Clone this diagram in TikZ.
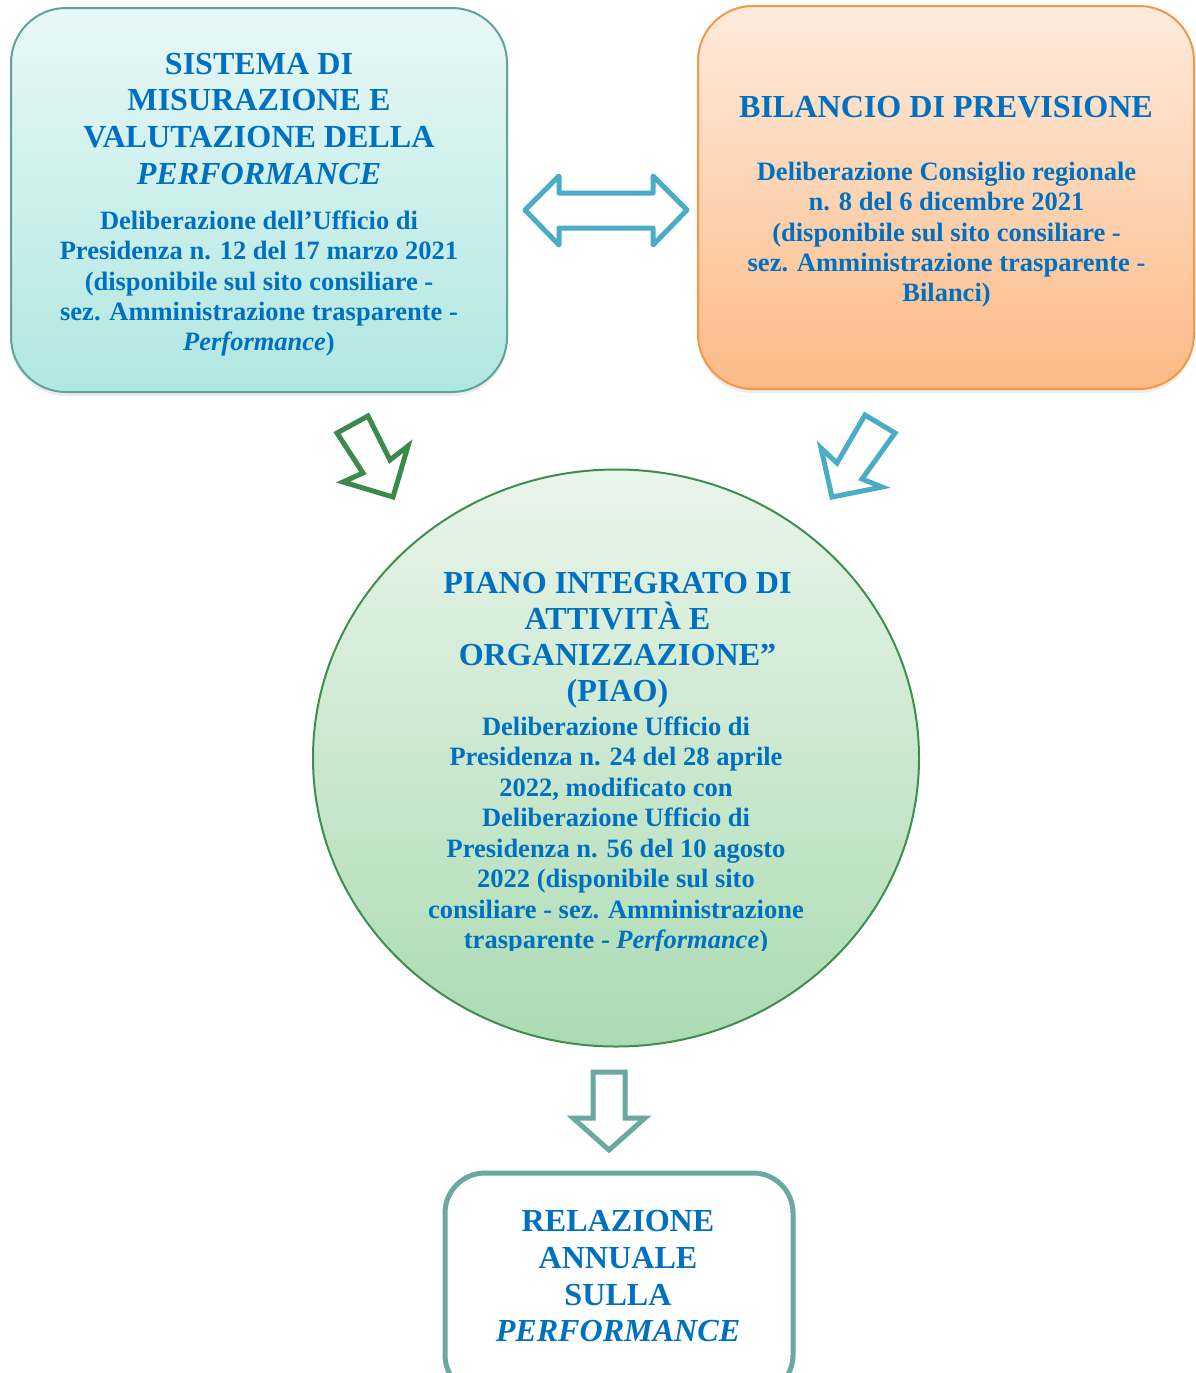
\documentclass[tikz,border=0pt]{standalone}
\usepackage{fontspec}
\setmainfont{Liberation Serif}
\usetikzlibrary{shapes.geometric,shadows}
\definecolor{txtblue}{HTML}{0070C0}
\definecolor{tealline}{HTML}{5FA39B}
\definecolor{tealtop}{HTML}{E9F8F6}
\definecolor{tealbot}{HTML}{B0E7E1}
\definecolor{orline}{HTML}{F79646}
\definecolor{ortop}{HTML}{FEEBDD}
\definecolor{orbot}{HTML}{FCBA85}
\definecolor{grline}{HTML}{3E8E4F}
\definecolor{grtop}{HTML}{EAF5EA}
\definecolor{grbot}{HTML}{ABDBB3}
\definecolor{cyanarrow}{HTML}{4BACC6}
\definecolor{greenarrow}{HTML}{3B8A4C}
\definecolor{grayteal}{HTML}{6AA8A0}
\tikzset{
  ttl/.style={anchor=base, inner sep=0pt, text=txtblue, font=\fontsize{32.1}{36.7}\selectfont\bfseries},
  bdy/.style={anchor=base, inner sep=0pt, text=txtblue, font=\fontsize{26.5}{30.5}\selectfont\bfseries},
  boxshape/.style={rectangle, rounded corners=55pt, inner sep=0pt, line width=2pt,
     drop shadow={opacity=0.15, shadow xshift=0pt, shadow yshift=-4pt}},
  blockarrow/.style={line width=5pt, fill=white},
}
\begin{document}
\begin{tikzpicture}[x=1pt,y=-1pt]
\useasboundingbox (0,0) rectangle (1195,1373);
\fill[white] (0,0) rectangle (1195,1373);

% left box
\node (sist) [boxshape, draw=tealline, top color=tealtop, bottom color=tealbot,
  minimum width=496pt, minimum height=384pt] at (259,200) {};
\foreach \t [count=\i] in {{SISTEMA DI}, {MISURAZIONE E}, {VALUTAZIONE DELLA}, {\textit{PERFORMANCE}}}
  \node[ttl, name=st\i] at (259, {74+36.8*(\i-1)}) {\t};
\foreach \t [count=\i] in {{Deliberazione dell’Ufficio di}, {Presidenza n. 12 del 17 marzo 2021},
  {(disponibile sul sito consiliare -}, {sez. Amministrazione trasparente -}, {\textit{Performance})}}
  \node[bdy, name=sb\i] at (259, {229.3+30.4*(\i-1)}) {\t};

% right box
\node (bil) [boxshape, draw=orline, top color=ortop, bottom color=orbot,
  minimum width=496pt, minimum height=383pt] at (946,197.5) {};
\node[ttl, name=bt1] at (946, 117.3) {BILANCIO DI PREVISIONE};
\foreach \t [count=\i] in {{Deliberazione Consiglio regionale}, {n. 8 del 6 dicembre 2021},
  {(disponibile sul sito consiliare -}, {sez. Amministrazione trasparente -}, {Bilanci)}}
  \node[bdy, name=bb\i] at (946.5, {180.3+30.4*(\i-1)}) {\t};

% double arrow between boxes
\draw[blockarrow, draw=cyanarrow, line join=round]
  (525,210) -- (559,176) -- (559,193) -- (653,193) -- (653,176) -- (687,210)
  -- (653,245) -- (653,228) -- (559,228) -- (559,245) -- cycle;

% diagonal arrows
\draw[blockarrow, draw=greenarrow, line join=miter]
  (337,433) -- (368,416) -- (390,460) -- (408,446) -- (393,497) -- (343,482) -- (363,473) -- cycle;
\draw[blockarrow, draw=cyanarrow, line join=miter]
  (865,415) -- (895,433) -- (862,479) -- (882,487) -- (832,497) -- (821,448) -- (837,463) -- cycle;

% circle
\node (piao) [ellipse, draw=grline, line width=2pt, top color=grtop, bottom color=grbot,
  minimum width=606pt, minimum height=577pt, inner sep=0pt] at (616,758) {};
\foreach \t [count=\i] in {{PIANO INTEGRATO DI}, {ATTIVITÀ E}, {ORGANIZZAZIONE”}, {(PIAO)}}
  \node[ttl, name=pt\i] at (617.5, {593.3+36.2*(\i-1)}) {\t};
\begin{scope}
\clip (300,705) rectangle (930,950);
\foreach \t [count=\i] in {{Deliberazione Ufficio di}, {Presidenza n. 24 del 28 aprile},
  {2022, modificato con}, {Deliberazione Ufficio di}, {Presidenza n. 56 del 10 agosto},
  {2022 (disponibile sul sito}, {consiliare - sez. Amministrazione}, {trasparente - \textit{Performance})}}
  \node[bdy, name=pb\i] at (616, {735+30.5*(\i-1)}) {\t};
\end{scope}

% down arrow
\draw[blockarrow, draw=grayteal, line join=miter]
  (593,1072) -- (625,1072) -- (625,1118) -- (645,1118) -- (609,1150) -- (573,1118) -- (593,1118) -- cycle;

% bottom box
\begin{scope}
\clip (0,0) rectangle (1195,1373);
\node (rel) [rectangle, rounded corners=40pt, draw=grayteal, line width=5pt, fill=white,
  minimum width=348pt, minimum height=222pt, inner sep=0pt] at (619,1284) {};
\end{scope}
\foreach \t [count=\i] in {{RELAZIONE}, {ANNUALE}, {SULLA}, {\textit{PERFORMANCE}}}
  \node[ttl, name=rt\i] at (618, {1231.7+36.7*(\i-1)}) {\t};
\end{tikzpicture}
\end{document}
